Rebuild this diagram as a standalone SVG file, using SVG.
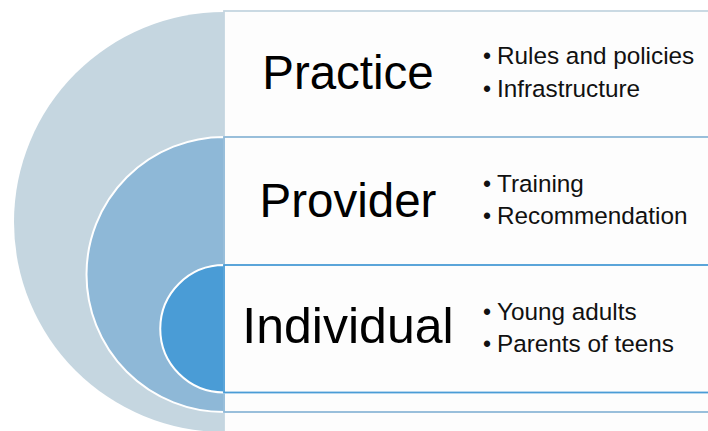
<svg xmlns="http://www.w3.org/2000/svg" width="708" height="431" viewBox="0 0 708 431">
<style>
.title{font-family:"Liberation Sans",Arial,sans-serif;font-size:47.5px;fill:#000;text-anchor:middle}
.item{font-family:"Liberation Sans",Arial,sans-serif;font-size:24.3px;fill:#111}
.bul{font-family:"Liberation Sans",Arial,sans-serif;font-size:23px;fill:#111;text-anchor:middle}
.box{fill:#fdfdfd;stroke-width:1.8}
</style>
<rect width="708" height="431" fill="#ffffff"/>
<g id="practice">
<path d="M224 12 A210 210 0 0 0 224 432 Z" fill="#c5d6e0"/>
<rect class="box" x="224" y="11" width="500" height="440" stroke="#c5d6e0"/>
<text class="title" x="348" y="89">Practice</text>
<text class="bul" x="487" y="64">•</text><text class="item" x="497" y="64">Rules and policies</text>
<text class="bul" x="487" y="97">•</text><text class="item" x="497" y="97">Infrastructure</text>
</g>
<g id="provider">
<path d="M224 137 A137.5 137.5 0 0 0 224 412 Z" fill="#8eb8d7" stroke="#ffffff" stroke-width="2"/>
<rect class="box" x="224" y="137" width="500" height="275" stroke="#8eb8d7"/>
<text class="title" x="348" y="217">Provider</text>
<text class="bul" x="487" y="192">•</text><text class="item" x="497" y="192">Training</text>
<text class="bul" x="487" y="224">•</text><text class="item" x="497" y="224">Recommendation</text>
</g>
<g id="individual">
<path d="M224 265 A63.75 63.75 0 0 0 224 392.5 Z" fill="#4a9cd6" stroke="#ffffff" stroke-width="2"/>
<rect class="box" x="224" y="265" width="500" height="127.5" stroke="#4a9cd6"/>
<text class="title" x="348" y="343" style="font-size:50px">Individual</text>
<text class="bul" x="487" y="320">•</text><text class="item" x="497" y="320">Young adults</text>
<text class="bul" x="487" y="352">•</text><text class="item" x="497" y="352">Parents of teens</text>
</g>
<g id="connectors"/>
</svg>
